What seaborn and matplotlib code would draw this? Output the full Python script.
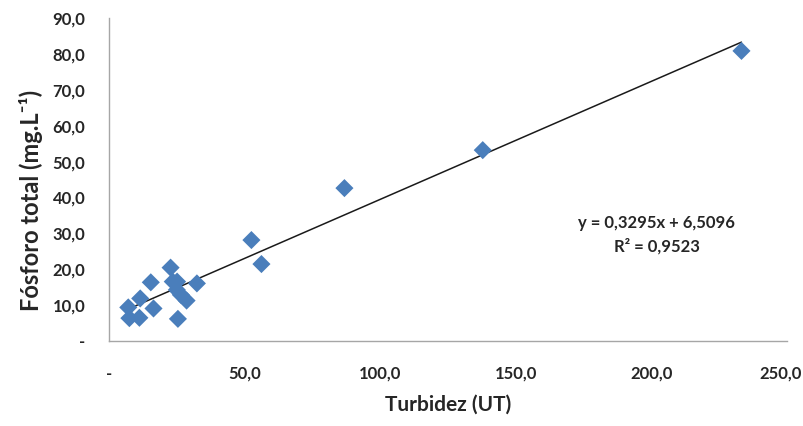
import matplotlib
matplotlib.use("Agg")
import matplotlib.pyplot as plt
import matplotlib.transforms as mtransforms
import numpy as np
import pandas as pd
import seaborn as sns

# valores
turbidez = [233.2, 137.8, 86.8, 52.5, 56.2, 32.4, 22.7, 15.4, 11.5, 7.1,
            7.5, 11.2, 16.4, 25.4, 28.6, 23.5, 25.1, 25.0, 26.5]
fosforo = [80.9, 53.2, 42.6, 28.1, 21.4, 16.0, 20.4, 16.3, 11.8, 9.3,
           6.3, 6.4, 9.0, 6.1, 11.2, 16.5, 16.5, 14.2, 12.8]
coef_a = 0.3295
coef_b = 6.5096
r2 = 0.9523
x_ticks = [0, 50, 100, 150, 200, 250]
y_ticks = [0, 10, 20, 30, 40, 50, 60, 70, 80, 90]

df = pd.DataFrame({"turbidez": turbidez, "fosforo": fosforo})

sns.set_style("white")
plt.rcParams["font.family"] = ["Lato", "DejaVu Sans"]
txt_color = "#262626"

fig = plt.figure(figsize=(8.04, 4.26), dpi=100)
ax = fig.add_axes([0.1356, 0.2002, 0.8433, 0.7568])

sns.scatterplot(data=df, x="turbidez", y="fosforo", marker="D", s=85,
                color="#4a7ebb", edgecolor="none", ax=ax, zorder=3)

xl = np.array([min(turbidez), max(turbidez)])
ax.plot(xl, coef_a * xl + coef_b, color="#1a1a1a", lw=1.1, zorder=2)

def fmt(v):
    return "-" if v == 0 else f"{v:.1f}".replace(".", ",")

ax.set_xlim(0, 250)
ax.set_ylim(0, 90)
ax.set_xticks(x_ticks)
ax.set_xticklabels([fmt(v) for v in x_ticks])
ax.set_yticks(y_ticks)
ax.set_yticklabels([fmt(v) for v in y_ticks])

for s in ["top", "right"]:
    ax.spines[s].set_visible(False)
for s in ["left", "bottom"]:
    ax.spines[s].set_color("#a6a6a6")
    ax.spines[s].set_linewidth(1.0)

ax.tick_params(axis="x", direction="out", length=5, width=1, color="#a6a6a6",
               pad=13, labelsize=12, labelcolor=txt_color)
ax.tick_params(axis="y", direction="out", length=5, width=1, color="#a6a6a6",
               pad=12, labelsize=12, labelcolor=txt_color)
for lab in ax.get_xticklabels() + ax.get_yticklabels():
    lab.set_fontweight("bold")

# último rótulo do eixo x puxado para dentro da figura, como no Excel
last = ax.get_xticklabels()[-1]
last.set_transform(last.get_transform() +
                   mtransforms.ScaledTranslation(-6 / 100, 0, fig.dpi_scale_trans))

ax.set_xlabel("Turbidez (UT)", fontsize=15, fontweight="bold", color=txt_color,
              labelpad=9)
ax.set_ylabel("Fósforo total (mg.L⁻¹)", fontsize=17,
              fontweight="bold", color=txt_color)
ax.yaxis.set_label_coords(-0.098, 0.436)

eq = f"y = {coef_a:.4f}x + {coef_b:.4f}".replace(".", ",")
ax.text(202, 32.9, eq, ha="center", va="center", fontsize=12,
        fontweight="bold", color=txt_color)
ax.text(202, 26.4, f"R² = {r2:.4f}".replace(".", ","), ha="center",
        va="center", fontsize=12, fontweight="bold", color=txt_color)

fig.savefig("out.png", dpi=100)
plt.close(fig)
